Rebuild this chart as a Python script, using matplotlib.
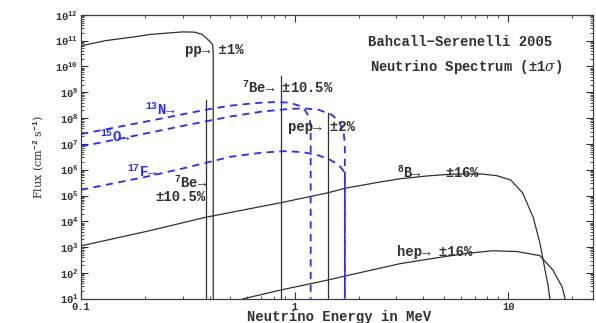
"""Solar neutrino spectrum, BS05 standard solar model."""

import matplotlib
matplotlib.use("Agg")
import matplotlib.pyplot as plt  # noqa: E402
import matplotlib.ticker as mticker  # noqa: E402
import numpy as np  # noqa: E402

plt.rcParams["font.family"] = ["Liberation Mono", "DejaVu Serif"]
plt.rcParams["mathtext.fontset"] = "custom"
plt.rcParams["mathtext.rm"] = "Liberation Mono:bold"
plt.rcParams["mathtext.it"] = "DejaVu Serif:italic"

FLOOR = 10.0  # bottom of the flux axis; spectra end points drop to it

# continuum spectra: energy (MeV), log10 flux
pp_e = [0.10, 0.13, 0.175, 0.21, 0.25, 0.30, 0.34, 0.37, 0.40, 0.413, 0.416, 0.416]
pp_lf = [10.80, 11.00, 11.14, 11.24, 11.29, 11.34, 11.33, 11.24, 10.98, 10.85, 10.5, 1.0]

n13_e = [0.10, 0.20, 0.30, 0.40, 0.50, 0.65, 0.80, 0.95, 1.05, 1.12, 1.17, 1.19, 1.19]
n13_lf = [7.38, 7.86, 8.15, 8.35, 8.48, 8.58, 8.62, 8.60, 8.48, 8.30, 8.05, 7.7, 1.0]

o15_e = [0.10, 0.20, 0.30, 0.50, 0.70, 0.90, 1.10, 1.30, 1.50, 1.62, 1.70, 1.72, 1.72]
o15_lf = [6.90, 7.40, 7.70, 8.06, 8.25, 8.34, 8.38, 8.32, 8.12, 7.85, 7.40, 7.0, 1.0]

f17_e = [0.10, 0.20, 0.30, 0.50, 0.70, 0.90, 1.10, 1.30, 1.47, 1.60, 1.68, 1.72, 1.72]
f17_lf = [5.22, 5.72, 6.05, 6.50, 6.66, 6.72, 6.68, 6.55, 6.38, 6.20, 6.00, 5.80, 1.0]

b8_e = [0.10, 0.21, 0.385, 0.86, 1.44, 1.72, 2.5, 3.12, 4.2, 5.5, 7.4, 8.85,
        10.3, 11.7, 13.1, 14.1, 14.9, 15.4, 15.7]
b8_lf = [3.05, 3.64, 4.16, 4.72, 5.11, 5.28, 5.52, 5.65, 5.76, 5.83, 5.84, 5.77,
         5.60, 5.10, 4.17, 3.16, 2.12, 1.5, 1.0]

hep_e = [0.575, 0.862, 1.44, 1.72, 3.12, 4.5, 6.4, 8.5, 11.0, 14.1, 16.2, 17.9, 18.5]
hep_lf = [1.0, 1.34, 1.73, 1.88, 2.36, 2.57, 2.76, 2.86, 2.83, 2.67, 2.12, 1.47, 1.0]

# line spectra: energy (MeV), flux (cm^-2 s^-1)
line_e = [0.384, 0.862, 1.442]
line_flux = [5.1e8, 4.1e9, 1.6e8]

fig = plt.figure(figsize=(5.96, 3.23), dpi=100)
ax = fig.add_axes([0.136, 0.075, 0.859, 0.879])

black = dict(color="#303030", lw=0.9)
blue = dict(color="#2a2aff", lw=1.3, ls=(0, (4, 3)))

ax.plot(pp_e, 10 ** np.array(pp_lf), **black)
ax.plot(b8_e, 10 ** np.array(b8_lf), **black)
ax.plot(hep_e, 10 ** np.array(hep_lf), **black)
for e, f in zip(line_e, line_flux):
    ax.plot([e, e], [FLOOR, f], **black)

ax.plot(n13_e, 10 ** np.array(n13_lf), **blue)
ax.plot(o15_e, 10 ** np.array(o15_lf), **blue)
ax.plot(f17_e, 10 ** np.array(f17_lf), **blue)

ax.set_xscale("log")
ax.set_yscale("log")
ax.set_xlim(0.1, 25)
ax.set_ylim(1e1, 1e12)

ax.xaxis.set_major_locator(mticker.FixedLocator([0.1, 1, 10]))
ax.xaxis.set_major_formatter(mticker.FixedFormatter(["0.1", "1", "10"]))
ax.xaxis.set_minor_locator(mticker.LogLocator(base=10, subs=np.arange(2, 10)))
ax.xaxis.set_minor_formatter(mticker.NullFormatter())
ax.yaxis.set_major_locator(mticker.LogLocator(base=10, numticks=20))
ax.yaxis.set_minor_locator(mticker.LogLocator(base=10, subs=np.arange(2, 10), numticks=20))
ax.yaxis.set_minor_formatter(mticker.NullFormatter())
ax.yaxis.set_major_formatter(mticker.FuncFormatter(
    lambda v, _: r"$\mathdefault{10^{%d}}$" % round(np.log10(v))))

ax.tick_params(which="both", direction="in", top=True, right=True,
               colors="#303030", labelsize=7.5, pad=2)
ax.tick_params(which="major", length=5, width=0.8)
ax.tick_params(which="minor", length=2.5, width=0.6)
for lab in ax.get_xticklabels() + ax.get_yticklabels():
    lab.set_fontweight("bold")
for s in ax.spines.values():
    s.set_color("#404040")
    s.set_linewidth(0.9)

ax.set_xlabel("Neutrino Energy in MeV", fontsize=10, color="#303030",
              fontweight="bold", va="top")
ax.xaxis.set_label_coords(0.505, -0.041)
ax.set_ylabel("Flux (cm$^{-2}$ s$^{-1}$)", fontsize=8, color="#303030", labelpad=7,
              family="DejaVu Serif")

txt = dict(fontsize=10, color="#303030", fontweight="bold", transform=ax.transData)
ax.text(0.306, 4.4e10, "pp→ ±1%", ha="left", va="center", **txt)
ax.text(0.57, 1.5e9, "$^{7}$Be→ ±10.5%", ha="left", va="center", **txt)
ax.text(0.93, 4.6e7, "pep→ ±2%", ha="left", va="center", **txt)
ax.text(0.392, 3.2e5, "$^{7}$Be→", ha="right", va="center", **txt)
ax.text(0.383, 8.8e4, "±10.5%", ha="right", va="center", **txt)
ax.text(3.02, 7.6e5, "$^{8}$B→   ±16%", ha="left", va="center", **txt)
ax.text(3.02, 6.5e2, "hep→ ±16%", ha="left", va="center", **txt)
ax.text(0.74, 0.905, "Bahcall−Serenelli 2005", fontsize=10, color="#303030",
        fontweight="bold", transform=ax.transAxes, ha="center", va="center")
ax.text(0.752, 0.817, r"Neutrino Spectrum (±1$\sigma$)", fontsize=10, color="#303030",
        fontweight="bold", transform=ax.transAxes, ha="center", va="center")

btxt = dict(fontsize=10, color="#2a2aff", fontweight="bold", transform=ax.transData)
ax.text(0.199, 2.1e8, "$^{13}$N→", ha="left", va="center", **btxt)
ax.text(0.123, 1.9e7, "$^{15}$O→", ha="left", va="center", **btxt)
ax.text(0.164, 8.1e5, "$^{17}$F→", ha="left", va="center", **btxt)

fig.savefig("out.png", dpi=100)
plt.close(fig)
